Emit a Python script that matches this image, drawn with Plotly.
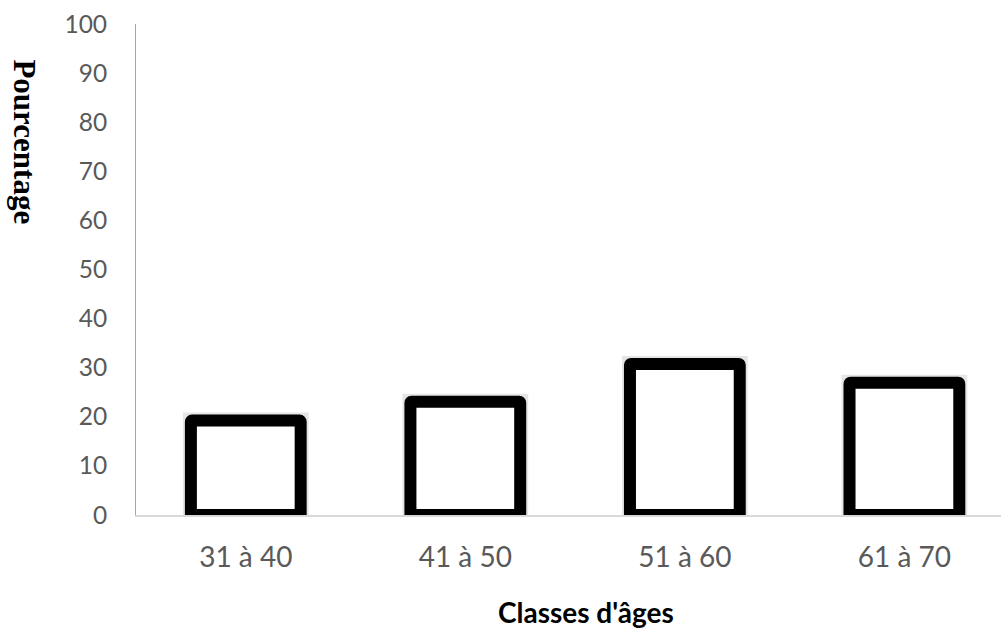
import plotly.graph_objects as go

# Répartition par classes d'âges (%)
classes = ["31 à 40", "41 à 50", "51 à 60", "61 à 70"]
pourcentages = [19.23, 23.08, 30.77, 26.92]
y_ticks = list(range(0, 101, 10))

fig = go.Figure()

# soft halo under the bars
fig.add_trace(go.Bar(
    x=classes, y=pourcentages, width=0.5,
    marker=dict(color="rgba(0,0,0,0)",
                line=dict(color="rgba(0,0,0,0.10)", width=16)),
    hoverinfo="skip", showlegend=False,
))
fig.add_trace(go.Bar(
    x=classes, y=pourcentages, width=0.5,
    marker=dict(color="white", line=dict(color="black", width=12),
                cornerradius=1),
    showlegend=False,
))

fig.update_layout(
    width=1001, height=634,
    margin=dict(l=136, r=0, t=24, b=119),
    paper_bgcolor="white", plot_bgcolor="white",
    barmode="overlay",
    font=dict(family="Lato, Carlito, sans-serif", size=24, color="#595959"),
    xaxis=dict(
        range=[-0.5, 3.44], showgrid=False, zeroline=False,
        showline=True, linecolor="#d9d9d9", linewidth=2,
        ticks="", ticklabelstandoff=16,
        tickfont=dict(family="Lato, sans-serif", size=28, color="#595959"),
    ),
    yaxis=dict(
        range=[0, 100], tickvals=y_ticks, showgrid=False, zeroline=False,
        showline=True, linecolor="#a6a6a6", linewidth=1,
        ticks="", ticklabelstandoff=23,
        tickfont=dict(family="Lato, sans-serif", size=24.5, color="#595959"),
    ),
    annotations=[
        dict(text="<b>Classes d'âges</b>", xref="paper", yref="paper",
             x=0.5205, y=-0.197, xanchor="center", yanchor="middle",
             showarrow=False,
             font=dict(family="Lato, sans-serif", size=28, color="black")),
        dict(text="<b>Pourcentage</b>", xref="paper", yref="paper",
             x=-0.129, y=0.76, xanchor="center", yanchor="middle",
             textangle=90, showarrow=False,
             font=dict(family="Liberation Serif, serif", size=31, color="black")),
    ],
)

fig.write_html("out.html")
